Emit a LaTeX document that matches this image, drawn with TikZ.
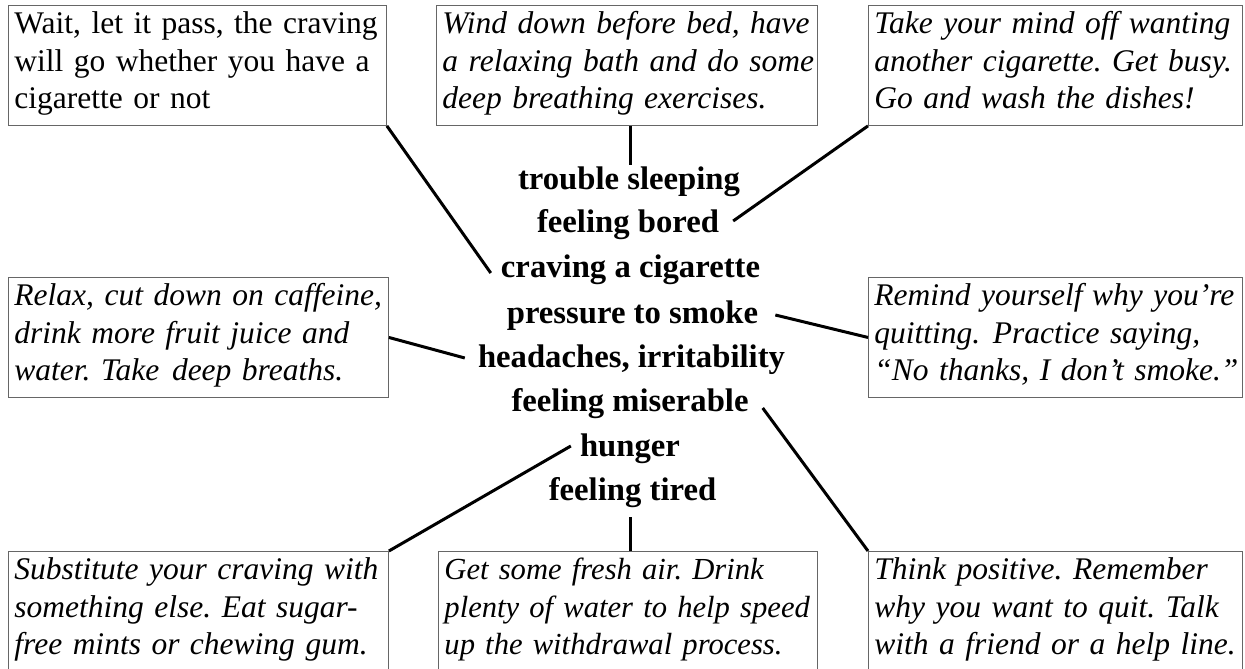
\documentclass[tikz,border=0pt]{standalone}
\usepackage{fontspec}
\setmainfont{Liberation Serif}
\frenchspacing
\begin{document}
\begin{tikzpicture}[x=1pt,y=-1pt,
  tipbox/.style={draw=black!60, line width=0.9pt, anchor=north west,
    inner xsep=6pt, inner ysep=0pt, text width=#1, align=left,
    text height=28.5pt, text depth=91.5pt,
    font=\fontsize{31.5}{37.3}\selectfont\itshape},
  sym/.style={anchor=base, inner sep=0pt,
    font=\fontsize{32.7}{40}\selectfont\bfseries},
  conn/.style={draw=black, line width=3pt}]
\useasboundingbox (0,0) rectangle (1245,669);

% advice boxes
\node[tipbox=366pt, font=\fontsize{31.5}{37.3}\selectfont\upshape] (b1) at (8,5)
  {\mbox{Wait, let it pass, the craving}\\\mbox{will go whether you have a}\\\mbox{cigarette or not}};
\node[tipbox=369pt] (b2) at (436,5)
  {\mbox{Wind down before bed, have}\\\mbox{a relaxing bath and do some}\\\mbox{deep breathing exercises.}};
\node[tipbox=362pt] (b3) at (868,5)
  {\mbox{Take your mind off wanting}\\\mbox{another cigarette. Get busy.}\\\mbox{Go and wash the dishes!}};
\node[tipbox=368pt] (b4) at (8,277)
  {\mbox{Relax, cut down on caffeine,}\\\mbox{drink more fruit juice and}\\\mbox{water. Take\hspace{0.4em}deep breaths.}};
\node[tipbox=362pt] (b5) at (868,277)
  {\mbox{Remind yourself\hspace{0.3em}why you’re}\\\mbox{quitting.\hspace{0.4em}Practice saying,}\\\mbox{“No thanks, I don’t smoke.”}};
\node[tipbox=368pt] (b6) at (8,551)
  {\mbox{Substitute your craving with}\\\mbox{something else. Eat sugar-}\\\mbox{free mints or chewing gum.}};
\node[tipbox=367pt, font=\fontsize{30.6}{37.3}\selectfont\itshape] (b7) at (438,551)
  {\mbox{Get some fresh air. Drink}\\\mbox{plenty of water to help speed}\\\mbox{up the withdrawal process.}};
\node[tipbox=362pt] (b8) at (868,551)
  {\mbox{Think positive. Remember}\\\mbox{why you want to quit. Talk}\\\mbox{with a friend or a help line.}};

% symptoms
\node[sym] (c1) at (629,189) {trouble sleeping};
\node[sym] (c2) at (628,232) {feeling bored};
\node[sym] (c3) at (630.5,277) {craving a cigarette};
\node[sym] (c4) at (632.5,323) {pressure to smoke};
\node[sym] (c5) at (631.5,367) {headaches, irritability};
\node[sym] (c6) at (630,411) {feeling miserable};
\node[sym] (c7) at (630,456) {hunger};
\node[sym] (c8) at (632.5,500) {feeling tired};

% connectors
\coordinate (t1) at ([xshift=3.5pt,yshift=1pt]b2.south |- c1.north);
\coordinate (t8) at ([xshift=2.5pt,yshift=-17pt]b7.north |- c8.base);
\draw[conn] (b1.south east) -- ([xshift=-10pt,yshift=4pt]c3.base west);
\draw[conn] ([xshift=3.5pt]b2.south) -- (t1);
\draw[conn] (b3.south west) -- ([xshift=14pt,yshift=11pt]c2.base east);
\draw[conn] (b4.east) -- ([xshift=-13pt,yshift=9pt]c5.base west);
\draw[conn] ([xshift=17pt,yshift=8pt]c4.base east) -- (b5.west);
\draw[conn] (b6.north east) -- ([xshift=-9pt,yshift=10pt]c7.base west);
\draw[conn] ([xshift=2.5pt]b7.north) -- (t8);
\draw[conn] (b8.north west) -- ([xshift=14pt,yshift=3pt]c6.base east);
\end{tikzpicture}
\end{document}
